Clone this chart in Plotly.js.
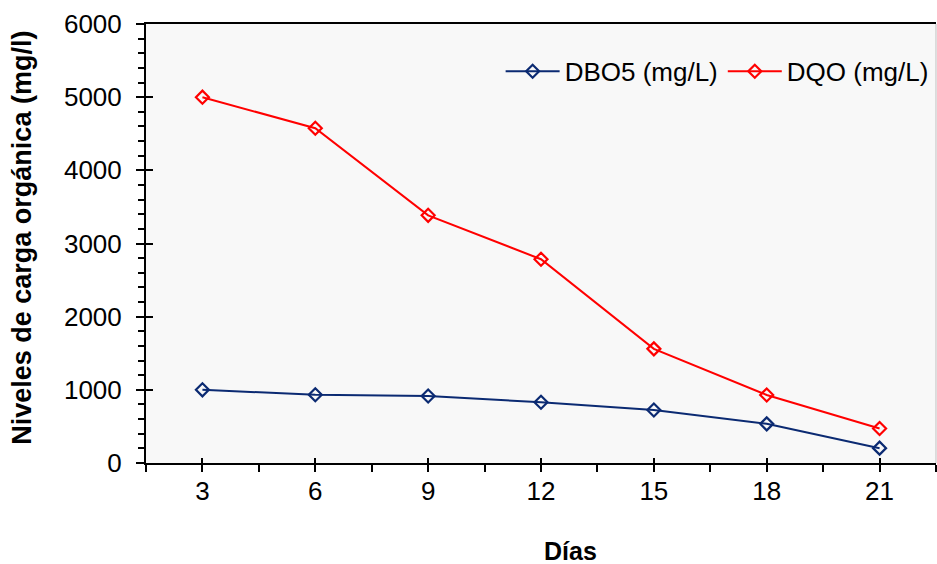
<!DOCTYPE html>
<html>
<head>
<meta charset="utf-8">
<script src="https://cdn.plot.ly/plotly-3.0.1.min.js"></script>
<style>html,body{margin:0;padding:0;background:#fff;}#chart{width:937px;height:564px;}</style>
</head>
<body>
<div id="chart"></div>
<script>
const dias = [3, 6, 9, 12, 15, 18, 21];
const dbo5 = [1000, 933, 915, 830, 724, 535, 203];
const dqo = [5000, 4575, 3385, 2785, 1560, 930, 472];
const xTickLabels = ['3', '6', '9', '12', '15', '18', '21'];
const yTickVals = [0, 1000, 2000, 3000, 4000, 5000, 6000];
const seriesNames = ['DBO5 (mg/L)', 'DQO (mg/L)'];
const xTitle = 'Días';
const yTitle = 'Niveles de carga orgánica (mg/l)';

const FONT = 'Liberation Sans, Arial, sans-serif';

const traces = [
  {
    x: dias, y: dbo5, name: seriesNames[0], type: 'scatter', mode: 'lines+markers',
    line: {color: '#0B2A72', width: 2},
    marker: {symbol: 'diamond-open', size: 10, color: '#0B2A72', line: {width: 2.2, color: '#0B2A72'}}
  },
  {
    x: dias, y: dqo, name: seriesNames[1], type: 'scatter', mode: 'lines+markers',
    line: {color: '#FF0000', width: 2},
    marker: {symbol: 'diamond-open', size: 10, color: '#FF0000', line: {width: 2.2, color: '#FF0000'}}
  }
];

const xr = [1.5, 22.5];
const yr = [0, 6000];

const layout = {
  width: 937, height: 564,
  margin: {l: 146, r: 1, t: 24, b: 101, pad: 0},
  paper_bgcolor: '#FFFFFF',
  plot_bgcolor: '#F8F8F8',
  font: {family: FONT, size: 26, color: '#000'},
  showlegend: true,
  legend: {
    orientation: 'h', x: 0.997, xanchor: 'right', y: 0.892, yanchor: 'middle',
    bgcolor: 'rgba(0,0,0,0)', font: {family: FONT, size: 26, color: '#000'},
    itemwidth: 54, tracegroupgap: 0
  },
  xaxis: {
    range: xr, fixedrange: true,
    tickmode: 'array', tickvals: dias, ticktext: xTickLabels,
    ticks: 'outside', ticklen: 7, tickwidth: 2, tickcolor: '#000',
    minor: {tick0: 1.5, dtick: 3, ticks: 'outside', ticklen: 7, tickwidth: 2, tickcolor: '#000'},
    showline: true, linecolor: '#000', linewidth: 2, mirror: true,
    showgrid: false, zeroline: false,
    tickfont: {family: FONT, size: 26, color: '#000'},
    ticklabelstandoff: -3
  },
  yaxis: {
    range: yr, fixedrange: true,
    tickmode: 'array', tickvals: yTickVals,
    ticks: 'outside', ticklen: 8, tickwidth: 2, tickcolor: '#000',
    minor: {tick0: 0, dtick: 200, ticks: 'outside', ticklen: 6, tickwidth: 2, tickcolor: '#000'},
    showline: true, linecolor: '#000', linewidth: 2,
    showgrid: false, zeroline: false,
    tickfont: {family: FONT, size: 26, color: '#000'},
    ticklabelstandoff: 9
  },
  xaxis2: {
    overlaying: 'x', anchor: 'y', side: 'bottom', range: xr, fixedrange: true,
    tickmode: 'array', tickvals: dias, showticklabels: false,
    ticks: 'inside', ticklen: 5, tickwidth: 2, tickcolor: '#000',
    showline: false, showgrid: false, zeroline: false
  },
  yaxis2: {
    overlaying: 'y', anchor: 'x', side: 'left', range: yr, fixedrange: true,
    tickmode: 'array', tickvals: yTickVals, showticklabels: false,
    ticks: 'inside', ticklen: 7, tickwidth: 2, tickcolor: '#000',
    showline: false, showgrid: false, zeroline: false
  },
  shapes: [
    {type: 'line', xref: 'paper', yref: 'paper', x0: 1, x1: 1, y0: 0, y1: 1,
     line: {color: '#BFBFBF', width: 1}}
  ],
  annotations: [
    {text: '<b>' + xTitle + '</b>', xref: 'paper', yref: 'paper', x: 0.537, y: -0.2,
     xanchor: 'center', yanchor: 'middle', showarrow: false,
     font: {family: FONT, size: 25, color: '#000'}},
    {text: '<b>' + yTitle + '</b>', xref: 'paper', yref: 'paper', x: -0.157, y: 0.513,
     xanchor: 'center', yanchor: 'middle', showarrow: false, textangle: -90,
     font: {family: FONT, size: 27, color: '#000'}}
  ]
};

traces.push({x: [], y: [], xaxis: 'x2', yaxis: 'y2', showlegend: false, hoverinfo: 'skip'});

Plotly.newPlot('chart', traces, layout, {displayModeBar: false, staticPlot: true});
</script>
</body>
</html>
